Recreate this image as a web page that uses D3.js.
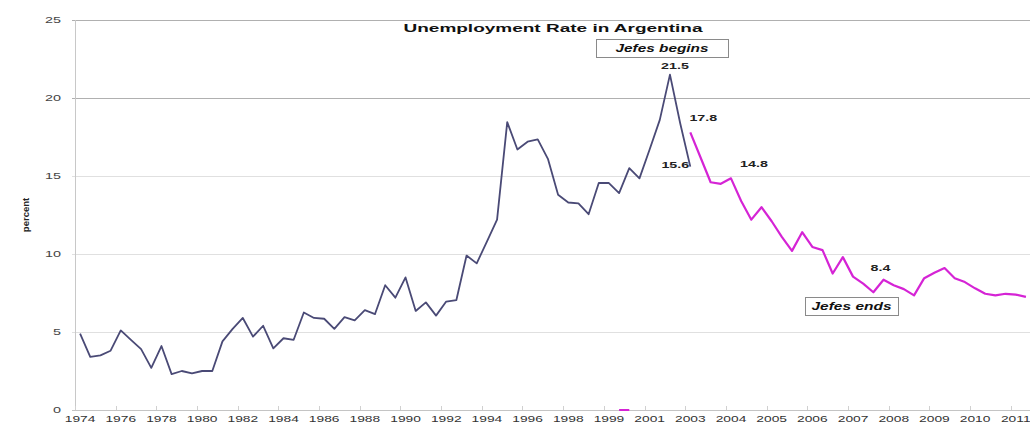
<!DOCTYPE html>
<html><head><meta charset="utf-8">
<script src="https://cdn.jsdelivr.net/npm/d3@7"></script>
<style>body{margin:0;background:#fff}svg{display:block}text{font-family:"Liberation Sans",Arial,sans-serif}</style>
</head><body><svg id="c" width="1030" height="426"></svg>
<script>
// ---- data ----
const categories = ["1974-1","1974-2","1975-1","1975-2","1976-1","1976-2","1977-1","1977-2","1978-1","1978-2",
"1979-1","1979-2","1980-1","1980-2","1981-1","1981-2","1982-1","1982-2","1983-1","1983-2",
"1984-1","1984-2","1985-1","1985-2","1986-1","1986-2","1987-1","1987-2","1988-1","1988-2",
"1989-1","1989-2","1990-1","1990-2","1991-1","1991-2","1992-1","1992-2","1993-1","1993-2",
"1994-1","1994-2","1995-1","1995-2","1996-1","1996-2","1997-1","1997-2","1998-1","1998-2",
"1998-3","1999-1","1999-2","2000-1","2000-2","2001-1","2001-2","2002-1","2002-2","2003-1",
"2003-Q2","2003-Q3","2003-Q4","2004-Q1","2004-Q2","2004-Q3","2004-Q4","2005-Q1","2005-Q2","2005-Q3",
"2005-Q4","2006-Q1","2006-Q2","2006-Q3","2006-Q4","2007-Q1","2007-Q2","2007-Q3","2007-Q4","2008-Q1",
"2008-Q2","2008-Q3","2008-Q4","2009-Q1","2009-Q2","2009-Q3","2009-Q4","2010-Q1","2010-Q2","2010-Q3",
"2010-Q4","2011-Q1","2011-Q2","2011-Q3"];

// survey series (dark line), one value per category, null = no value
const surveyValues = [4.9,3.4,3.5,3.8,5.1,4.5,3.9,2.7,4.1,2.3,
2.5,2.35,2.5,2.5,4.4,5.2,5.9,4.7,5.4,3.95,
4.6,4.5,6.25,5.9,5.85,5.2,5.95,5.75,6.4,6.15,
8.0,7.2,8.5,6.35,6.9,6.05,6.95,7.05,9.9,9.4,
10.8,12.2,18.45,16.7,17.2,17.35,16.1,13.8,13.3,13.25,
12.55,14.55,14.55,13.9,15.5,14.85,16.7,18.6,21.5,18.4,
15.6,null,null,null,null,null,null,null,null,null,
null,null,null,null,null,null,null,null,null,null,
null,null,null,null,null,null,null,null,null,null,
null,null,null,null];

// continuous survey series (magenta line)
const continuousValues = [null,null,null,null,null,null,null,null,null,null,
null,null,null,null,null,null,null,null,null,null,
null,null,null,null,null,null,null,null,null,null,
null,null,null,null,null,null,null,null,null,null,
null,null,null,null,null,null,null,null,null,null,
null,null,null,0,0,null,null,null,null,null,
17.8,16.2,14.6,14.5,14.85,13.4,12.2,13.0,12.1,11.1,
10.2,11.4,10.45,10.25,8.75,9.8,8.55,8.1,7.55,8.35,
8.0,7.75,7.35,8.45,8.8,9.1,8.45,8.2,7.8,7.45,
7.35,7.45,7.4,7.25];

const yTicks = [0,5,10,15,20,25];
const tickEvery = 4;
const title = "Unemployment Rate in Argentina";
const yLabel = "percent";
const valueLabels = [
  {cat:"2002-2", series:"survey", text:"21.5", dx:5, dy:-6},
  {cat:"2003-Q2", series:"continuous", text:"17.8", dx:13, dy:-11},
  {cat:"2003-Q2", series:"survey", text:"15.6", dx:-15, dy:1},
  {cat:"2004-Q2", series:"continuous", text:"14.8", dx:23, dy:-11},
  {cat:"2008-Q1", series:"continuous", text:"8.4", dx:-3, dy:-9}
];
const boxes = [
  {text:"Jefes begins", x:596, y:39, w:132, h:18, tw:93},
  {text:"Jefes ends", x:805, y:297, w:93, h:18, tw:80}
];

// ---- drawing ----
const svg = d3.select("#c");
const x = d3.scaleBand().domain(categories).range([75, 1031]);
const y = d3.scaleLinear().domain([0, 25]).range([410, 20]);
const cx = c => x(c) + x.bandwidth() / 2;
const STRETCH = 1.5;
function stretch(sel, f) {
  sel.each(function () {
    const w = this.getComputedTextLength();
    this.setAttribute("textLength", w * (f || STRETCH));
    this.setAttribute("lengthAdjust", "spacingAndGlyphs");
  });
}

// gridlines
svg.append("g").selectAll("line").data(yTicks).join("line")
  .attr("x1", 72).attr("x2", 1030)
  .attr("y1", d => Math.round(y(d)) + 0.5).attr("y2", d => Math.round(y(d)) + 0.5)
  .attr("stroke", d => d >= 20 ? "#b0b0b0" : (d === 0 ? "#c4c4c4" : "#e0e0e0"))
  .attr("stroke-width", 1);

// left axis line
svg.append("line").attr("x1", 75.5).attr("x2", 75.5).attr("y1", y(25)).attr("y2", y(0))
  .attr("stroke", "#c8c8c8");

// y axis
const ya = svg.append("g").attr("transform", "translate(75,0)")
  .call(d3.axisLeft(y).tickValues(yTicks).tickSize(0).tickPadding(14));
ya.select(".domain").remove();
ya.selectAll("text").attr("font-size", 9).attr("fill", "#444").attr("font-family", "Liberation Sans, Arial, sans-serif")
  .call(stretch, 1.6);

// x axis
const tickCats = categories.filter((d, i) => i % tickEvery === 0);
const xa = svg.append("g").attr("transform", "translate(0,410)")
  .call(d3.axisBottom(x).tickValues(tickCats).tickFormat(d => d.slice(0, 4)).tickSize(0).tickPadding(5));
xa.select(".domain").remove();
xa.selectAll("text").attr("font-size", 9.5).attr("fill", "#333").attr("font-family", "Liberation Sans, Arial, sans-serif")
  .call(stretch, 1.45);

// small tick marks at group boundaries
svg.append("g").selectAll("line").data(tickCats).join("line")
  .attr("x1", d => Math.round(x(d)) + 0.5).attr("x2", d => Math.round(x(d)) + 0.5)
  .attr("y1", 406).attr("y2", 410).attr("stroke", "#d0d0d0");

// lines
const line = d3.line().defined(d => d.v != null).x(d => cx(d.c)).y(d => y(d.v));
const surveyData = categories.map((c, i) => ({c, v: surveyValues[i]}));
const contData = categories.map((c, i) => ({c, v: continuousValues[i]}));
svg.append("path").datum(surveyData).attr("d", line).attr("fill", "none")
  .attr("stroke", "#4a4a76").attr("stroke-width", 1.8).attr("stroke-linejoin", "round");
svg.append("path").datum(contData).attr("d", line).attr("fill", "none")
  .attr("stroke", "#d524d5").attr("stroke-width", 2.2).attr("stroke-linejoin", "round");

// value labels
const seriesMap = {survey: surveyValues, continuous: continuousValues};
svg.append("g").selectAll("text").data(valueLabels).join("text")
  .attr("x", d => cx(d.cat) + d.dx)
  .attr("y", d => y(seriesMap[d.series][categories.indexOf(d.cat)]) + d.dy)
  .attr("text-anchor", "middle").attr("font-size", 9.5).attr("font-weight", "bold").attr("fill", "#222")
  .text(d => d.text).call(stretch);

// annotation boxes
const bg = svg.append("g").selectAll("g").data(boxes).join("g");
bg.append("rect").attr("x", d => d.x + 0.5).attr("y", d => d.y + 0.5).attr("width", d => d.w).attr("height", d => d.h)
  .attr("fill", "#fff").attr("stroke", "#8a8a8a").attr("stroke-width", 1);
bg.append("text").attr("x", d => d.x + d.w / 2).attr("y", d => d.y + d.h / 2 + 4)
  .attr("text-anchor", "middle").attr("font-size", 10.5).attr("font-weight", "bold").attr("font-style", "italic")
  .attr("fill", "#111").attr("textLength", d => d.tw).attr("lengthAdjust", "spacingAndGlyphs")
  .text(d => d.text);

// title
svg.append("text").attr("x", 553).attr("y", 32).attr("text-anchor", "middle")
  .attr("font-size", 11.5).attr("font-weight", "bold").attr("fill", "#111")
  .attr("textLength", 299).attr("lengthAdjust", "spacingAndGlyphs").text(title);

// y label
svg.append("text").attr("transform", "translate(29,215) rotate(-90)").attr("text-anchor", "middle")
  .attr("font-size", 9.5).attr("font-weight", "bold").attr("fill", "#222").text(yLabel);
</script></body></html>
